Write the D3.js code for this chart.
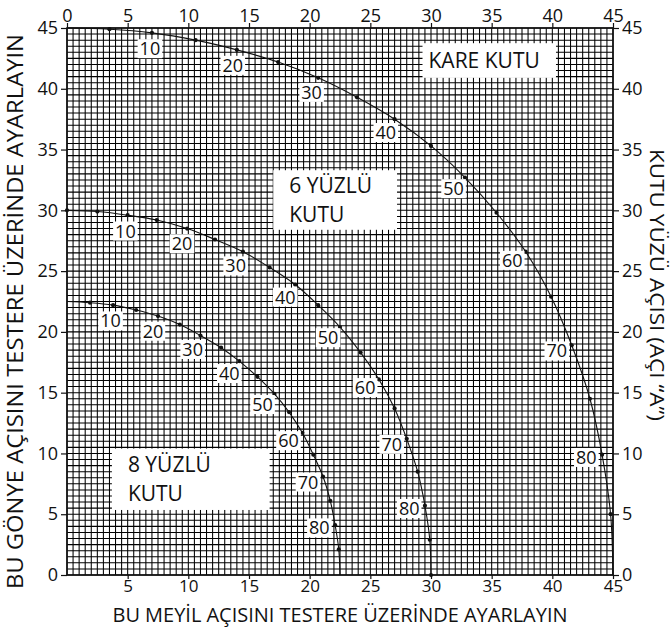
<!DOCTYPE html>
<html><head><meta charset="utf-8">
<script src="https://cdn.jsdelivr.net/npm/d3@7"></script>
<style>body{margin:0;background:#fff}svg{display:block}text{font-family:"Open Sans",sans-serif;fill:#111}</style>
</head><body><svg id="c" width="670" height="633"></svg>
<script>
// Box side angle "A" (degrees)
const sideAngles = [0,5,10,15,20,25,30,35,40,45,50,55,60,65,70,75,80,85,90];
const labelAngles = [10,20,30,40,50,60,70,80];
// KARE KUTU (4 sides)
const squareBevel = [0,3.5,7.0,10.6,14.0,17.4,20.7,23.9,27.0,30.0,32.8,35.4,37.8,39.9,41.6,43.1,44.1,44.8,45];
const squareMiter = [45,44.9,44.6,44.0,43.2,42.2,40.9,39.3,37.5,35.3,32.7,29.8,26.6,22.9,18.9,14.5,9.9,5.0,0];
// 6 YÜZLÜ KUTU
const hexBevel = [0,2.5,5.0,7.4,9.9,12.2,14.5,16.7,18.8,20.7,22.5,24.2,25.7,27.0,28.0,28.9,29.5,29.9,30];
const hexMiter = [30,29.9,29.6,29.2,28.5,27.6,26.6,25.3,23.9,22.2,20.4,18.3,16.1,13.7,11.2,8.5,5.7,2.9,0];
// 8 YÜZLÜ KUTU
const octBevel = [0,1.9,3.8,5.7,7.5,9.3,11.0,12.7,14.2,15.7,17.1,18.3,19.4,20.3,21.1,21.7,22.1,22.4,22.5];
const octMiter = [22.5,22.4,22.2,21.8,21.3,20.6,19.7,18.7,17.6,16.3,14.9,13.4,11.7,9.9,8.1,6.1,4.1,2.1,0];
// which side angles carry a dot
const squareDotAngles = [5,10,15,20,25,30,35,40,45,50,55,60,65,70,75,80,85];
const hexDotAngles = [0,5,10,15,20,25,30,35,40,45,50,55,60,65,70,75,80,85,90];
const octDotAngles = [5,10,15,20,25,30,35,40,45,50,55,60,65,70,75,80,85];
// axis ticks
const axisTicks = [0,5,10,15,20,25,30,35,40,45];
const bottomTicks = [5,10,15,20,25,30,35,40,45];
// captions
const xTitle = "BU MEYİL AÇISINI TESTERE ÜZERİNDE AYARLAYIN";
const yTitle = "BU GÖNYE AÇISINI TESTERE ÜZERİNDE AYARLAYIN";
const y2Title = "KUTU YÜZÜ AÇISI (AÇI “A”)";
const boxNames = [["KARE KUTU"],["6 YÜZLÜ","KUTU"],["8 YÜZLÜ","KUTU"]];
const boxExtents = [[29.3,40.3,40.9,43.75],[17.0,27.2,28.4,33.3],[3.7,16.7,5.35,10.4]]; // data-unit extents x0,x1,y0,y1

const svg = d3.select("#c");
const L=67,R=613,T=28,B=575;
const x = d3.scaleLinear([0,45],[L,R]);
const y = d3.scaleLinear([0,45],[B,T]);

// grid every 0.5
const g = svg.append("g");
const gridVals = d3.range(0,45.001,0.5);
g.selectAll("line.v").data(gridVals).join("line")
  .attr("x1",d=>x(d)).attr("x2",d=>x(d)).attr("y1",T).attr("y2",B)
  .attr("stroke","#000").attr("stroke-width",1.05);
g.selectAll("line.h").data(gridVals).join("line")
  .attr("y1",d=>y(d)).attr("y2",d=>y(d)).attr("x1",L).attr("x2",R)
  .attr("stroke","#000").attr("stroke-width",1.05);

// label boxes
boxNames.forEach((lines,i)=>{
  const e = boxExtents[i];
  svg.append("rect").attr("x",x(e[0])).attr("y",y(e[3])).attr("width",x(e[1])-x(e[0])).attr("height",y(e[2])-y(e[3])).attr("fill","#fff");
  const n = lines.length;
  lines.forEach((t,j)=>{
    const cy = (y(e[3])+y(e[2]))/2 + (j-(n-1)/2)*29;
    svg.append("text").attr("x",x(e[0])+(n>1?16:6)).attr("y",cy).attr("dy","0.36em")
      .attr("font-size",21).text(t);
  });
});

// curves
const series = [
  {bev:squareBevel, mit:squareMiter, dots:squareDotAngles},
  {bev:hexBevel, mit:hexMiter, dots:hexDotAngles},
  {bev:octBevel, mit:octMiter, dots:octDotAngles}
];
const line = d3.line().x(d=>x(d[0])).y(d=>y(d[1])).curve(d3.curveCatmullRom.alpha(0.5));
series.forEach(s=>{
  const pts = sideAngles.map((a,i)=>[s.bev[i],s.mit[i]]);
  svg.append("path").attr("d",line(pts)).attr("fill","none").attr("stroke","#111").attr("stroke-width",1.1);
  svg.append("g").selectAll("circle").data(s.dots).join("circle")
    .attr("cx",a=>x(s.bev[sideAngles.indexOf(a)])).attr("cy",a=>y(s.mit[sideAngles.indexOf(a)]))
    .attr("r",2.1).attr("fill","#111");
  labelAngles.forEach(a=>{
    const i = sideAngles.indexOf(a);
    const px = x(s.bev[i]), py = y(s.mit[i]);
    const tx = x(s.bev[i+1])-x(s.bev[i-1]), ty = y(s.mit[i+1])-y(s.mit[i-1]);
    const len = Math.hypot(tx,ty);
    const nx = -ty/len, ny = tx/len;
    const off = 16;
    const cx = px+nx*off, cy = py+ny*off;
    const lg = svg.append("g");
    const txt = lg.append("text").attr("x",cx).attr("y",cy).attr("dy","0.36em")
      .attr("text-anchor","middle").attr("font-size",18).text(a);
    const bb = txt.node().getBBox();
    lg.insert("rect","text").attr("x",bb.x-2).attr("y",bb.y+3).attr("width",bb.width+4).attr("height",bb.height-5).attr("fill","#fff");
  });
});

// border
svg.append("rect").attr("x",L).attr("y",T).attr("width",R-L).attr("height",B-T)
  .attr("fill","none").attr("stroke","#111").attr("stroke-width",1.6);

// axes
function styleAxis(sel, fs){
  sel.select(".domain").remove();
  sel.selectAll(".tick line").attr("stroke","#111").attr("stroke-width",1.2);
  sel.selectAll(".tick text").attr("font-size",fs).attr("fill","#111").style("font-family",'"Open Sans",sans-serif');
}
svg.append("g").attr("transform",`translate(${L},0)`).call(d3.axisLeft(y).tickValues(axisTicks).tickSize(6).tickPadding(3)).call(styleAxis,18);
svg.append("g").attr("transform",`translate(${R},0)`).call(d3.axisRight(y).tickValues(axisTicks).tickSize(6).tickPadding(3)).call(styleAxis,18);
svg.append("g").attr("transform",`translate(0,${T})`).call(d3.axisTop(x).tickValues(axisTicks).tickSize(5).tickPadding(1)).call(styleAxis,18);
svg.append("g").attr("transform",`translate(0,${B})`).call(d3.axisBottom(x).tickValues(bottomTicks).tickSize(4).tickPadding(1)).call(styleAxis,17);

// titles
svg.append("text").attr("x",(L+R)/2).attr("y",622).attr("text-anchor","middle").attr("font-size",20)
  .attr("textLength",455).attr("lengthAdjust","spacingAndGlyphs").text(xTitle);
svg.append("text").attr("transform",`translate(23,${(T+B)/2+10}) rotate(-90)`).attr("text-anchor","middle").attr("font-size",21)
  .attr("textLength",555).attr("lengthAdjust","spacingAndGlyphs").text(yTitle);
svg.append("text").attr("transform",`translate(650,285) rotate(90)`).attr("text-anchor","middle").attr("font-size",20)
  .attr("textLength",272).attr("lengthAdjust","spacingAndGlyphs").text(y2Title);
</script></body></html>
